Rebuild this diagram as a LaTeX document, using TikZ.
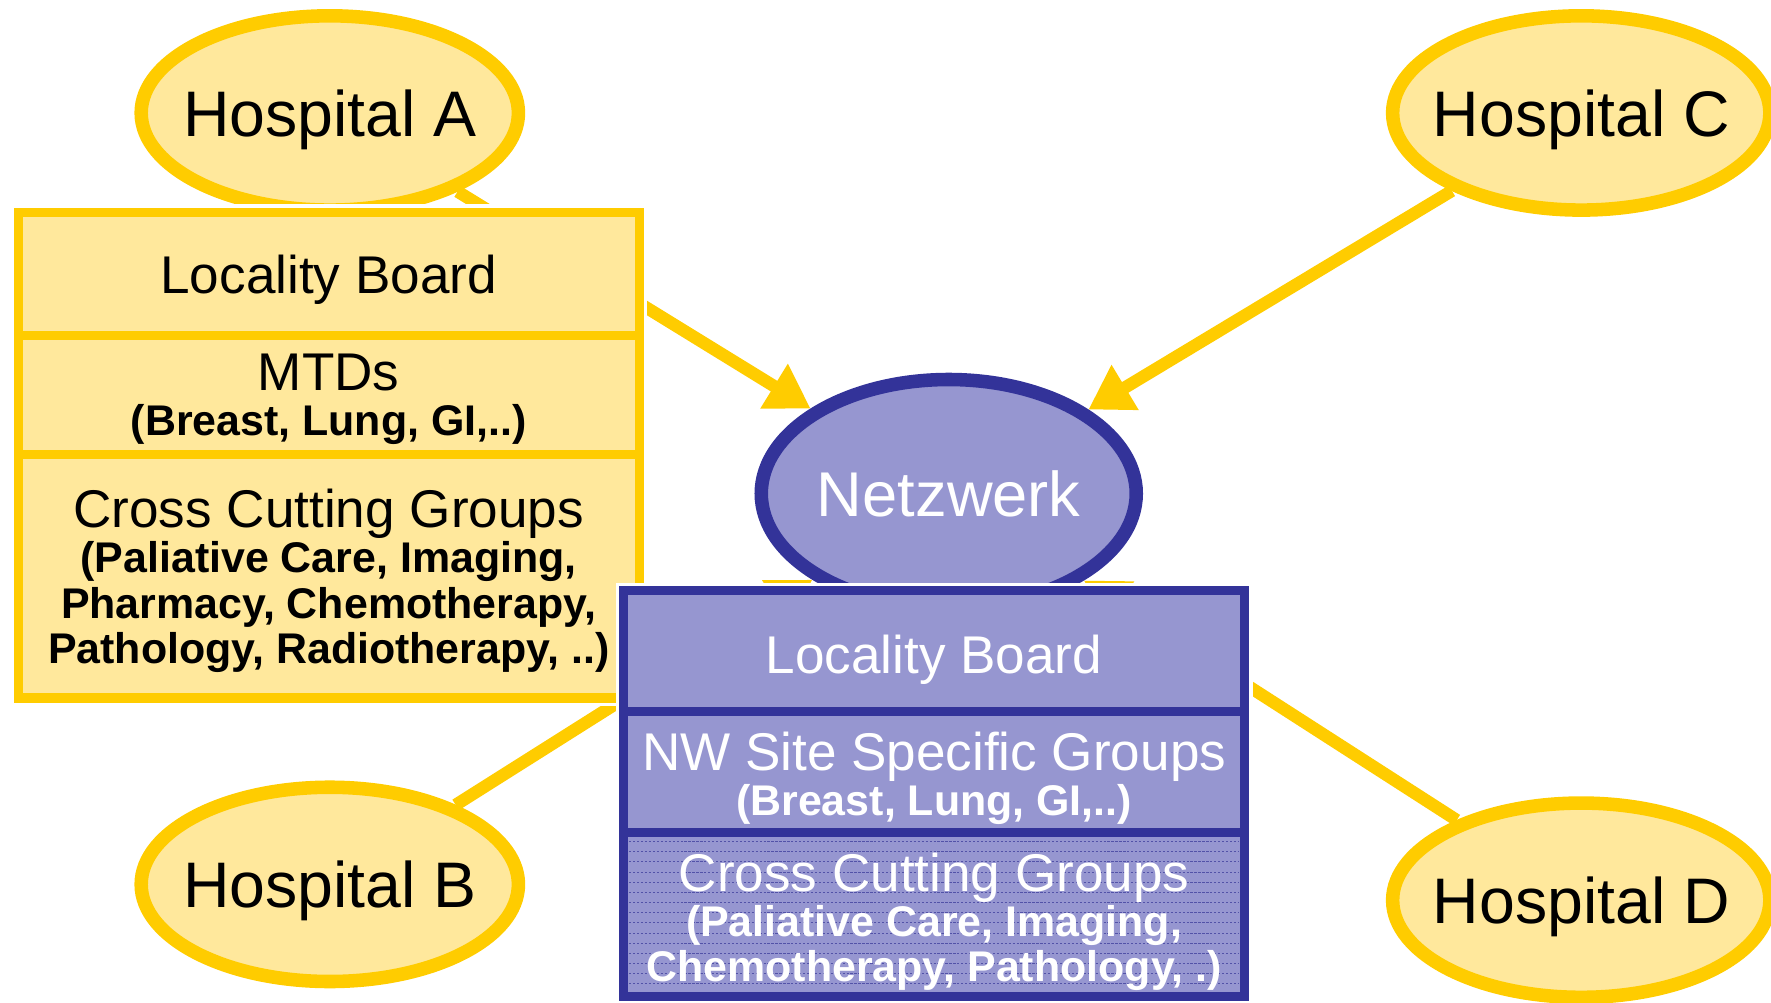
\documentclass[tikz,border=0pt]{standalone}
\usepackage{fontspec}
\setmainfont{Liberation Sans}
\usetikzlibrary{arrows.meta,shapes.geometric}
\definecolor{ystroke}{RGB}{255,204,0}
\definecolor{yfill}{RGB}{255,232,156}
\definecolor{bstroke}{RGB}{51,51,153}
\definecolor{bfill}{RGB}{150,150,208}
\begin{document}
\begin{tikzpicture}[x=1pt,y=-1pt,
  hosp/.style={ellipse, draw=ystroke, fill=yfill, line width=12pt,
    minimum width=334pt, minimum height=172pt, inner ysep=0pt, inner xsep=-70pt,
    font=\fontsize{57}{60}\selectfont, text height=41pt, text depth=0pt},
  netz/.style={ellipse, draw=bstroke, fill=bfill, line width=12pt,
    minimum width=332pt, minimum height=202pt, inner ysep=0pt, inner xsep=-60pt, text=white,
    font=\fontsize{56}{60}\selectfont, text height=40pt, text depth=0pt},
  conn/.style={draw=ystroke, line width=11pt},
  arr/.style={conn, -{Triangle[length=38pt,width=44pt]}},
  ysec/.style={rectangle, draw=ystroke, fill=yfill, line width=8pt,
    minimum width=550pt, inner sep=0pt},
  bsec/.style={rectangle, draw=bstroke, fill=bfill, line width=8pt,
    minimum width=550pt, inner sep=0pt},
  backing/.style={fill=white},
  sectxt/.style={font=\fontsize{47}{40}\selectfont, align=center,
    inner sep=0pt, anchor=north},
  hatch/.style={draw=bstroke!85!white, line width=0.7pt, dash pattern=on 2pt off 1.5pt},
]
\useasboundingbox (0,0) rectangle (1568,888);
\clip (0,0) rectangle (1568,888);

% hospitals
\node[hosp] (hA) at (292,100) {Hospital A};
\node[hosp] (hB) at (292,783) {Hospital B};
\node[hosp] (hC) at (1400,100) {Hospital C};
\node[hosp] (hD) at (1400,797) {Hospital D};

% network
\node[netz] (net) at (840,437) {Netzwerk};

% connectors (drawn before the boxes, which hide parts of them)
\draw[arr] (hA) -- (net);
\draw[arr] (hC) -- (net);
\draw[arr] (hB) -- (net);
\draw[arr] (hD) -- (net);

% yellow hospital box
\fill[backing] (9,181) rectangle (573,625);
\node[ysec, minimum height=109pt] (ys1) at (291,242.5) {};
\node[ysec, minimum height=105pt] (ys2) at (291,349.5) {};
\node[ysec, minimum height=216pt] (ys3) at (291,510) {};
\node[sectxt] (yt1) at (291,226) {Locality Board};
\node[sectxt] (yt2) at (291,313) {MTDs\\{\bfseries\fontsize{38}{40}\selectfont (Breast, Lung, GI,..)}};
\node[sectxt] (yt3) at (291,433) {Cross Cutting Groups\\
  {\bfseries\fontsize{38}{40}\selectfont (Paliative Care, Imaging,}\\
  {\bfseries\fontsize{38}{40}\selectfont Pharmacy, Chemotherapy,}\\
  {\bfseries\fontsize{38}{40}\selectfont Pathology, Radiotherapy, ..)}};

% blue network box
\fill[backing] (545,516) rectangle (1109,889);
\node[bsec, minimum height=107pt] (bs1) at (827,576.5) {};
\node[bsec, minimum height=107pt] (bs2) at (827,683.5) {};
\node[bsec, minimum height=145pt] (bs3) at (827,809.5) {};
\foreach \yy in {745,754,...,878} \draw[hatch] (557,\yy) -- (1097,\yy);
\node[sectxt, text=white] (bt1) at (827,562) {Locality Board};
\node[sectxt, text=white] (bt2) at (827,648) {NW Site Specific Groups\\{\bfseries\fontsize{38}{40}\selectfont (Breast, Lung, GI,..)}};
\node[sectxt, text=white] (bt3) at (827,755) {Cross Cutting Groups\\
  {\bfseries\fontsize{38}{39}\selectfont (Paliative Care, Imaging,}\\
  {\bfseries\fontsize{38}{39}\selectfont Chemotherapy, Pathology, .)}};
\end{tikzpicture}
\end{document}
